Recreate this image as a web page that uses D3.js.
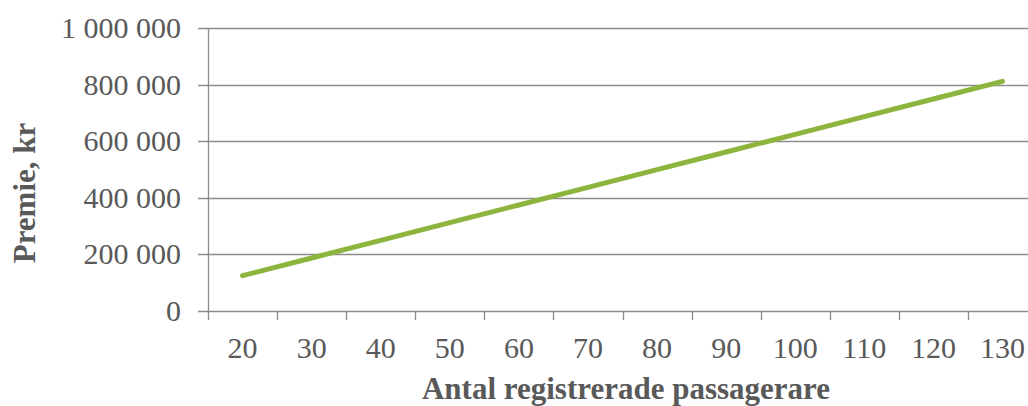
<!DOCTYPE html>
<html><head><meta charset="utf-8">
<script src="https://cdn.jsdelivr.net/npm/d3@7"></script>
<style>body{margin:0;background:#fff;overflow:hidden}svg{display:block}</style>
</head><body>
<svg id="c" width="1028" height="406"></svg>
<script>
const categories = ["20","30","40","50","60","70","80","90","100","110","120","130"];
const premie = [125000,187500,250000,312500,375000,437500,500000,562500,625000,687500,750000,812500];
const yTicks = [0,200000,400000,600000,800000,1000000];

(function () {
const svg = d3.select("#c");
const pL = 208, pR = 1037, pT = 28.3, pB = 311;
const x = d3.scaleBand().domain(categories).range([pL, pR]).padding(0);
const y = d3.scaleLinear().domain([0, 1000000]).range([pB, pT]);
const fmt = v => d3.format(",")(v).replace(/,/g, " ");
const font = "'Liberation Serif', 'DejaVu Serif', serif";
const gridC = "#8c8c8c", textC = "#595959";

svg.append("g").selectAll("line").data(yTicks).join("line")
  .attr("x1", pL - 10).attr("x2", pR)
  .attr("y1", d => Math.round(y(d)) + 0.5).attr("y2", d => Math.round(y(d)) + 0.5)
  .attr("stroke", gridC).attr("stroke-width", 1.3);

svg.append("line").attr("x1", pL + 0.5).attr("x2", pL + 0.5)
  .attr("y1", y(1000000)).attr("y2", pB)
  .attr("stroke", gridC).attr("stroke-width", 1.3);

const bounds = categories.map(c => x(c)).concat([pR]);
svg.append("g").selectAll("line").data(bounds).join("line")
  .attr("x1", d => Math.round(d) + 0.5).attr("x2", d => Math.round(d) + 0.5)
  .attr("y1", pB).attr("y2", pB + 9)
  .attr("stroke", gridC).attr("stroke-width", 1.3);

svg.append("g").selectAll("text").data(yTicks).join("text")
  .attr("x", 181).attr("y", d => y(d) + 10)
  .attr("text-anchor", "end")
  .attr("font-family", font).attr("font-size", 30).attr("fill", textC)
  .text(fmt);

svg.append("g").selectAll("text").data(categories).join("text")
  .attr("x", d => x(d) + x.bandwidth() / 2).attr("y", 358)
  .attr("text-anchor", "middle")
  .attr("font-family", font).attr("font-size", 30).attr("fill", textC)
  .text(d => d);

const line = d3.line().x((d, i) => x(categories[i]) + x.bandwidth() / 2).y(d => y(d));
svg.append("path").datum(premie).attr("d", line)
  .attr("fill", "none").attr("stroke", "#8db43c").attr("stroke-width", 5)
  .attr("stroke-linecap", "round").attr("stroke-linejoin", "round");

svg.append("text").attr("x", 626).attr("y", 399)
  .attr("text-anchor", "middle").attr("font-family", font).attr("font-weight", "bold")
  .attr("font-size", 31).attr("fill", textC).text("Antal registrerade passagerare");
svg.append("text").attr("transform", "translate(35,193) rotate(-90)")
  .attr("text-anchor", "middle").attr("font-family", font).attr("font-weight", "bold")
  .attr("font-size", 31).attr("fill", textC).text("Premie, kr");
})();
</script>
</body></html>
